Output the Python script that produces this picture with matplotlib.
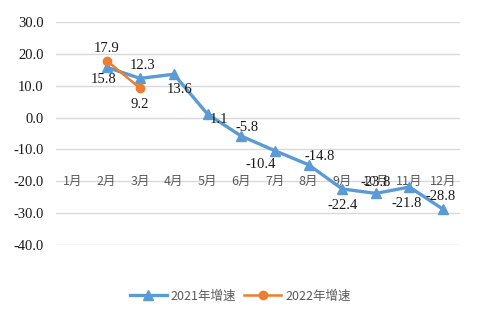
import numpy as np
import matplotlib.pyplot as plt
from matplotlib.lines import Line2D

plt.rcParams['font.family'] = ['Noto Sans CJK SC', 'DejaVu Sans']

months = ["1月", "2月", "3月", "4月", "5月", "6月", "7月", "8月", "9月", "10月", "11月", "12月"]
growth_2021 = [np.nan, 15.8, 12.3, 13.6, 1.1, -5.8, -10.4, -14.8, -22.4, -23.8, -21.8, -28.8]
growth_2022 = [np.nan, 17.9, 9.2] + [np.nan] * 9
yticks = [30, 20, 10, 0, -10, -20, -30, -40]

# label offsets (points) for each data label
off_2021 = [None, (-2, -9), (2, 9), (4, -11), (8, -4), (4, 6), (-10, -10), (8, 6),
            (0, -12), (0, 8), (-2, -12), (-2, 9)]
off_2022 = [None, (0, 9), (0, -12)]

blue = "#5B9BD5"
orange = "#ED7D31"

fig = plt.figure(figsize=(4.8, 3.27), dpi=100)
ax = fig.add_axes([56 / 480, 1 - 245 / 327, 404 / 480, 223 / 327])

x = np.arange(len(months))
ax.plot(x, growth_2021, color=blue, lw=2.4, marker="^", ms=7, zorder=3)
ax.plot(x, growth_2022, color=orange, lw=1.8, marker="o", ms=6, zorder=4)

serif = ["Liberation Serif", "DejaVu Serif"]
for i, v in enumerate(growth_2021):
    if not np.isnan(v):
        ax.annotate(f"{v:.1f}", (i, v), xytext=off_2021[i], textcoords="offset points",
                    ha="center", va="center", fontsize=10.5, family=serif, color="#1a1a1a", zorder=5)
for i, v in enumerate(growth_2022):
    if not np.isnan(v):
        ax.annotate(f"{v:.1f}", (i, v), xytext=off_2022[i], textcoords="offset points",
                    ha="center", va="center", fontsize=10.5, family=serif, color="#1a1a1a", zorder=5)

# month names sit on the -20 line
for i, m in enumerate(months):
    ax.text(i, -20, m, ha="center", va="center", fontsize=9, color="#595959", zorder=2)

ax.set_xlim(-0.5, len(months) - 0.5)
ax.set_ylim(-40, 30)
ax.set_yticks(yticks)
ax.set_yticklabels([f"{t:.1f}" for t in yticks], family=serif, fontsize=10.5, color="#1a1a1a")
ax.set_xticks([])
ax.tick_params(axis="y", length=0, pad=9)
ax.grid(axis="y", color="#d9d9d9", lw=1)
ax.set_axisbelow(True)
for s in ax.spines.values():
    s.set_visible(False)

handles = [Line2D([], [], color=blue, lw=2.4, marker="^", ms=7),
           Line2D([], [], color=orange, lw=1.8, marker="o", ms=6)]
fig.legend(handles, ["2021年增速", "2022年增速"], loc="center", bbox_to_anchor=(0.5, 1 - 296 / 327),
           ncol=2, frameon=False, fontsize=9, labelcolor="#595959", handlelength=3,
           columnspacing=0.6, handletextpad=0.3)

fig.savefig("out.png", dpi=100, facecolor="white")
